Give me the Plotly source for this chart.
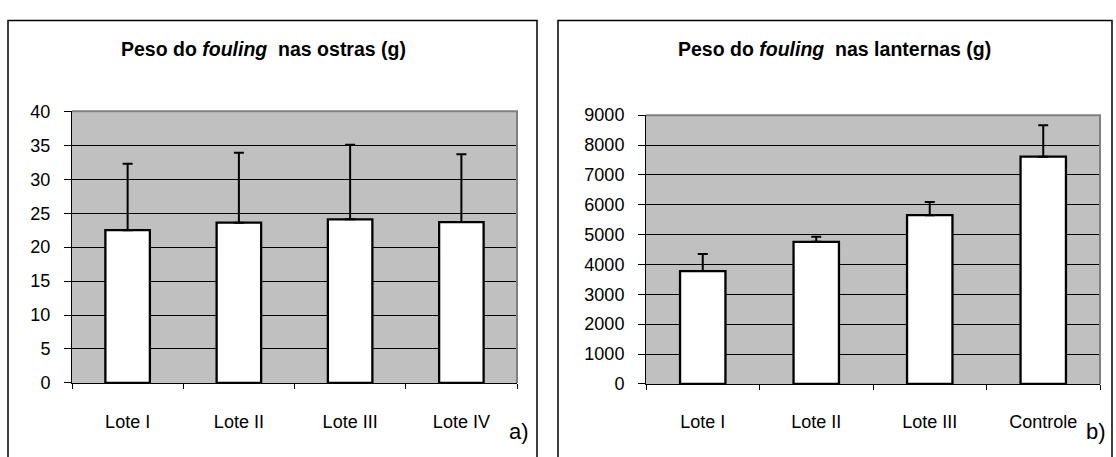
import plotly.graph_objects as go

W, H = 1116, 457

# Panel a) – fouling weight on oysters
cats_a = ["Lote I", "Lote II", "Lote III", "Lote IV"]
vals_a = [22.5, 23.6, 24.1, 23.7]
err_a = [9.8, 10.3, 11.0, 10.0]
yticks_a = [0, 5, 10, 15, 20, 25, 30, 35, 40]

# Panel b) – fouling weight on lanterns
cats_b = ["Lote I", "Lote II", "Lote III", "Controle"]
vals_b = [3780, 4760, 5650, 7610]
err_b = [570, 170, 440, 1050]
yticks_b = [0, 1000, 2000, 3000, 4000, 5000, 6000, 7000, 8000, 9000]

FONT = "Liberation Sans, Arial, sans-serif"


def px_x(v):
    return v / W


def px_y(v):
    return 1 - v / H


panels = [
    dict(cats=cats_a, vals=vals_a, err=err_a, ticks=yticks_a, rng=[0, 40],
         x0=72, x1=517, y0=106, y1=390, box=(8, 537, 11), titlex=263,
         title="Peso do <i>fouling</i>  nas ostras (g)", tag="a)", tagx=531),
    dict(cats=cats_b, vals=vals_b, err=err_b, ticks=yticks_b, rng=[0, 9000],
         x0=646, x1=1100, y0=110, y1=391, box=(558, 1112, 11), titlex=834,
         title="Peso do <i>fouling</i>  nas lanternas (g)", tag="b)", tagx=1108),
]

fig = go.Figure()
shapes = []
annotations = []

for i, p in enumerate(panels, start=1):
    xa = "x" if i == 1 else f"x{i}"
    ya = "y" if i == 1 else f"y{i}"
    fig.add_trace(go.Bar(
        x=p["cats"], y=p["vals"], xaxis=xa, yaxis=ya,
        marker=dict(color="white", line=dict(color="black", width=2.3)),
        width=0.4,
        error_y=dict(type="data", array=p["err"], arrayminus=[0] * len(p["err"]),
                     symmetric=False, color="black", thickness=2, width=5),
        showlegend=False, hoverinfo="skip",
    ))
    xkey = "xaxis" if i == 1 else f"xaxis{i}"
    ykey = "yaxis" if i == 1 else f"yaxis{i}"
    fig.update_layout({
        xkey: dict(domain=[px_x(p["x0"]), px_x(p["x1"])], anchor=ya,
                   type="category", tickson="boundaries", ticks="outside",
                   ticklen=5, tickcolor="black", showline=True,
                   linecolor="black", linewidth=1, showgrid=False,
                   ticklabelstandoff=22,
                   tickfont=dict(family=FONT, size=18, color="black"),
                   fixedrange=True),
        ykey: dict(domain=[px_y(p["y1"]), px_y(p["y0"])], anchor=xa,
                   range=p["rng"], tickvals=p["ticks"], ticks="outside",
                   ticklen=7, tickcolor="black", showline=True,
                   linecolor="black", linewidth=1, showgrid=True,
                   gridcolor="black", gridwidth=1, zeroline=False,
                   ticklabelstandoff=10,
                   tickfont=dict(family=FONT, size=18, color="black"),
                   fixedrange=True),
    })
    # grey plot area background
    shapes.append(dict(type="rect", xref="paper", yref="paper", layer="below",
                       x0=px_x(p["x0"]), x1=px_x(p["x1"]),
                       y0=px_y(p["y1"]), y1=px_y(p["y0"]),
                       fillcolor="#c0c0c0", line=dict(width=0)))
    # grey top and right border of plot area
    shapes.append(dict(type="path", xref="paper", yref="paper", layer="above",
                       path=f"M {px_x(p['x0'])},{px_y(p['y0'])} L {px_x(p['x1'])},{px_y(p['y0'])} "
                            f"L {px_x(p['x1'])},{px_y(p['y1'])}",
                       line=dict(color="#808080", width=2)))
    # outer chart frame
    bx0, bx1, by = p["box"]
    shapes.append(dict(type="rect", xref="paper", yref="paper",
                       x0=px_x(bx0), x1=px_x(bx1), y0=-0.1, y1=px_y(by),
                       line=dict(color="black", width=1.5), fillcolor="rgba(0,0,0,0)"))
    annotations.append(dict(xref="paper", yref="paper",
                            x=px_x(p["titlex"]), y=px_y(41),
                            text=f"<b>{p['title']}</b>", showarrow=False,
                            xanchor="center", yanchor="middle",
                            font=dict(family=FONT, size=19.5, color="black")))
    annotations.append(dict(xref="paper", yref="paper",
                            x=px_x(p["tagx"]), y=px_y(441),
                            text=p["tag"], showarrow=False,
                            xanchor="right", yanchor="middle",
                            font=dict(family=FONT, size=22, color="black")))

fig.update_layout(
    width=W, height=H, margin=dict(l=0, r=0, t=0, b=0),
    paper_bgcolor="white", plot_bgcolor="rgba(0,0,0,0)",
    shapes=shapes, annotations=annotations, bargap=0.6,
)

fig.write_html("out.html", config={"displayModeBar": False})
